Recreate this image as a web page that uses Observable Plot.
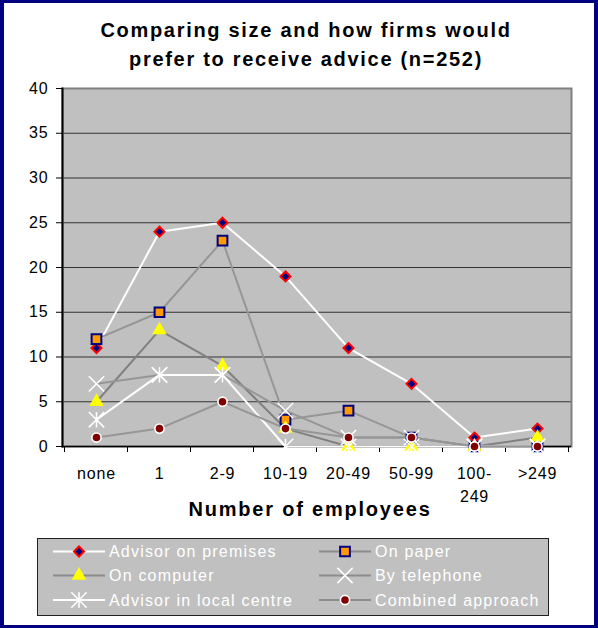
<!DOCTYPE html>
<html>
<head>
<meta charset="utf-8">
<script src="https://cdn.jsdelivr.net/npm/d3@7"></script>
<script src="https://cdn.jsdelivr.net/npm/@observablehq/plot@0.6"></script>
<style>
  body { margin: 0; background: #fff; font-family: "Liberation Sans", Arial, sans-serif; }
  #page { position: relative; width: 598px; height: 628px; background: #fff; overflow: hidden; }
  #border { position: absolute; left: 0; top: 0; width: 598px; height: 628px; box-sizing: border-box;
            border: 4px solid #000080; border-top-width: 3px; border-bottom-width: 3px; pointer-events: none; }
  #title { position: absolute; left: 10px; width: 592px; top: 16px; text-align: center;
           font-weight: bold; font-size: 20px; line-height: 29px; letter-spacing: 1.7px; color: #000; }
  #xtitle { position: absolute; left: 0; width: 620px; top: 497px; text-align: center;
            font-weight: bold; font-size: 20px; line-height: 24px; letter-spacing: 1.8px; color: #000; }
  #plot { position: absolute; left: 0; top: 0; }
  #plot svg text { letter-spacing: 0.8px; }
  #legend { position: absolute; left: 37px; top: 538px; }
</style>
</head>
<body>
<div id="page">
  <div id="plot"></div>
  <div id="title">Comparing size and how firms would<br>prefer to receive advice (n=252)</div>
  <div id="xtitle">Number of employees</div>
  <div id="legend"></div>
  <div id="border"></div>
</div>
<script>
// Firm size bands and tick labels
const categories = ["none", "1", "2-9", "10-19", "20-49", "50-99", "100-249", ">249"];
const tickLabels = ["none", "1", "2-9", "10-19", "20-49", "50-99", "100-\n249", ">249"];
const yTicks = [0, 5, 10, 15, 20, 25, 30, 35, 40];

// Number of firms preferring each way of receiving advice, by size band
const premises    = [11, 24, 25, 19, 11, 7, 1, 2];
const paper       = [12, 15, 23, 3, 4, 1, 0, 0];
const computer    = [5, 13, 9, 2, 0, 0, 0, 1];
const telephone   = [7, 8, 8, 4, 1, 1, 0, 0];
const localCentre = [3, 8, 8, 0, 0, 0, 0, 0];
const combined    = [1, 2, 5, 2, 1, 1, 0, 0];

const seriesNames = ["Advisor on premises", "On paper", "On computer", "By telephone", "Advisor in local centre", "Combined approach"];

// Asterisk marker: an X with a vertical bar through it
const asteriskSymbol = {
  draw(context, size) {
    const h = Math.sqrt(size / Math.PI) * 1.1;
    context.moveTo(-h, -h); context.lineTo(h, h);
    context.moveTo(-h, h); context.lineTo(h, -h);
    context.moveTo(0, -h); context.lineTo(0, h);
  }
};

// Drawing styles for each series
const styles = [
  {values: premises,    line: "#ffffff", symbol: "diamond2", r: 4.5, fill: "#000080", stroke: "#ff0000", strokeWidth: 2},
  {values: paper,       line: "#969696", symbol: "square",   r: 5.5, fill: "#ff9900", stroke: "#000080", strokeWidth: 2},
  {values: computer,    line: "#808080", symbol: "triangle", r: 5.4, fill: "#ffff00", stroke: "none",    strokeWidth: 0},
  {values: telephone,   line: "#969696", symbol: "times",    r: 7,   fill: "none",    stroke: "#ffffff", strokeWidth: 1.5},
  {values: localCentre, line: "#ffffff", symbol: asteriskSymbol, r: 7, fill: "none", stroke: "#ffffff", strokeWidth: 1.5},
  {values: combined,    line: "#969696", symbol: "circle",   r: 4.6, fill: "#800000", stroke: "#ffffff", strokeWidth: 1.6}
];

const rowsOf = (values) => categories.map((c, i) => ({category: c, value: values[i]}));

// Category boundary ticks below the x axis
function boundaryTicks(index, scales) {
  const {x, y} = scales;
  const step = x(categories[1]) - x(categories[0]);
  const bounds = categories.map(c => x(c) - step / 2).concat([x(categories[categories.length - 1]) + step / 2]);
  const g = d3.create("svg:g").attr("stroke", "#000").attr("stroke-width", 1);
  g.selectAll("line").data(bounds).join("line")
    .attr("x1", d => d).attr("x2", d => d)
    .attr("y1", y(0)).attr("y2", y(0) + 6);
  return g.node();
}

const chart = Plot.plot({
  width: 598,
  height: 530,
  marginLeft: 62,
  marginRight: 27,
  marginTop: 88,
  marginBottom: 84,
  style: {background: "transparent", fontFamily: "'Liberation Sans', Arial, sans-serif", fontSize: "16px", color: "#000"},
  x: {type: "point", domain: categories, padding: 0.5, axis: null},
  y: {domain: [0, 40], axis: null},
  marks: [
    Plot.frame({fill: "#c0c0c0"}),
    Plot.gridY(yTicks.filter(t => t > 0 && t < 40), {stroke: "#333333", strokeOpacity: 1, strokeWidth: 1.2}),
    Plot.frame({stroke: "#808080", strokeWidth: 2}),
    Plot.frame({anchor: "left", stroke: "#000", strokeWidth: 2}),
    Plot.ruleY([0], {stroke: "#000", strokeWidth: 1.5}),
    Plot.axisY({ticks: yTicks, label: null, tickSize: 6, tickPadding: 8, fontSize: 16, stroke: "#000", fill: "#000"}),
    boundaryTicks,
    Plot.text(categories, {x: d => d, text: (d, i) => tickLabels[i], frameAnchor: "bottom", lineAnchor: "top",
      dy: 16, lineHeight: 1.45, fontSize: 16, fill: "#000"}),
    ...styles.map(s => Plot.line(rowsOf(s.values), {x: "category", y: "value", stroke: s.line, strokeWidth: 2})),
    ...styles.map(s => Plot.dot(rowsOf(s.values), {x: "category", y: "value", symbol: s.symbol, r: s.r,
      fill: s.fill, stroke: s.stroke, strokeWidth: s.strokeWidth}))
  ]
});
document.getElementById("plot").appendChild(chart);

// Legend
const legendW = 512, legendH = 78;
const legend = d3.select("#legend").append("svg").attr("width", legendW).attr("height", legendH);
legend.append("rect").attr("x", 0.5).attr("y", 0.5).attr("width", legendW - 1).attr("height", legendH - 1)
  .attr("fill", "#c0c0c0").attr("stroke", "#202020").attr("stroke-width", 1);
const rowY = [13.5, 37.5, 62];
const colX = [16, 282];
const legendLine = ["#ffffff", "#8c8c8c", "#8c8c8c", "#8c8c8c", "#ffffff", "#8c8c8c"];
const symbolTypes = {diamond2: d3.symbolDiamond2, square: d3.symbolSquare, triangle: d3.symbolTriangle,
  times: d3.symbolTimes, circle: d3.symbolCircle};
styles.forEach((s, i) => {
  const cx = colX[i % 2], cy = rowY[Math.floor(i / 2)];
  const g = legend.append("g").attr("transform", `translate(${cx},${cy})`);
  g.append("line").attr("x1", 0).attr("x2", 52).attr("y1", 0).attr("y2", 0)
    .attr("stroke", legendLine[i]).attr("stroke-width", 2);
  const type = typeof s.symbol === "string" ? symbolTypes[s.symbol] : s.symbol;
  g.append("path").attr("transform", "translate(26,0)")
    .attr("d", d3.symbol(type, Math.PI * s.r * s.r)())
    .attr("fill", s.fill).attr("stroke", s.stroke).attr("stroke-width", s.strokeWidth);
  g.append("text").attr("x", 56).attr("y", 0).attr("dy", "0.35em")
    .attr("fill", "#fff").attr("font-size", 16).attr("letter-spacing", "1.2px")
    .attr("font-family", "'Liberation Sans', Arial, sans-serif")
    .text(seriesNames[i]);
});
</script>
</body>
</html>
